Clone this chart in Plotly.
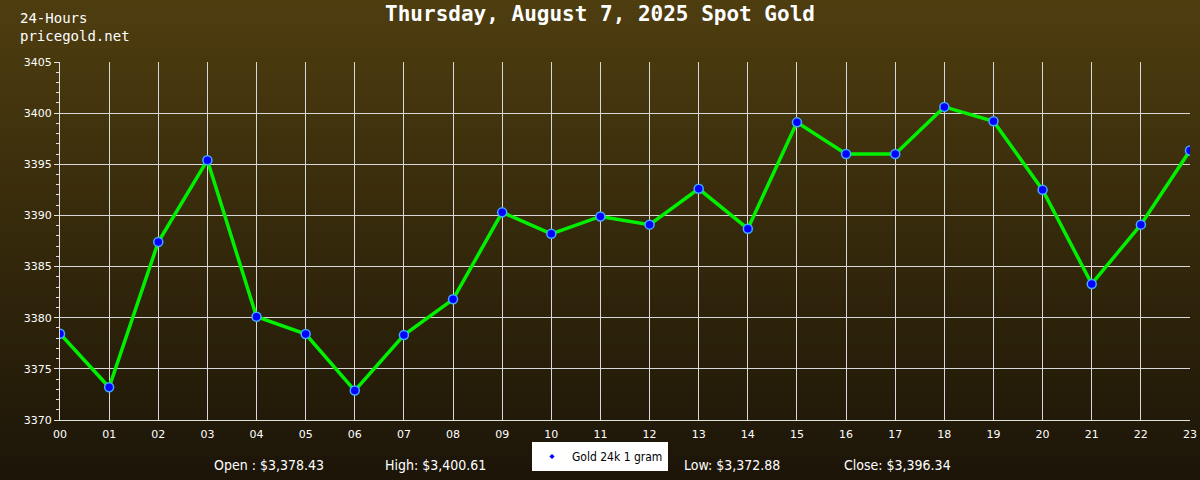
import plotly.graph_objects as go

hours = ["00","01","02","03","04","05","06","07","08","09","10","11",
         "12","13","14","15","16","17","18","19","20","21","22","23"]
prices = [3378.43, 3373.2, 3387.4, 3395.4, 3380.1, 3378.4, 3372.88, 3378.3,
          3381.8, 3390.3, 3388.2, 3389.9, 3389.1, 3392.6, 3388.7, 3399.1,
          3396.0, 3396.0, 3400.61, 3399.2, 3392.5, 3383.3, 3389.1, 3396.34]
y_ticks = [3370, 3375, 3380, 3385, 3390, 3395, 3400, 3405]
title_text = "Thursday, August 7, 2025 Spot Gold"
series_name = "Gold 24k 1 gram"

x_idx = list(range(len(hours)))

W, H = 1200, 480
L, R, T, B = 60, 10, 62, 60
PW, PH = W - L - R, H - T - B


def px_x(p):
    return (p - L) / PW


def px_y(p):
    return (H - B - p) / PH


fig = go.Figure()

# gradient background bands
top = (78, 61, 15)
bot = (28, 21, 8)
n = 60
shapes = []
for i in range(n):
    t = i / (n - 1)
    c = tuple(int(round(top[k] + (bot[k] - top[k]) * t)) for k in range(3))
    y_top = i * H / n
    y_bot = (i + 1) * H / n + 1
    shapes.append(dict(type="rect", xref="paper", yref="paper", layer="below",
                       x0=px_x(-5), x1=px_x(W + 5),
                       y0=px_y(y_bot), y1=px_y(y_top),
                       fillcolor="rgb(%d,%d,%d)" % c, line=dict(width=0)))

fig.add_trace(go.Scatter(
    x=x_idx, y=prices, mode="lines+markers", showlegend=False,
    line=dict(color="#00f000", width=3.5),
    marker=dict(color="#0000ff", size=9, line=dict(color="#44aaff", width=1.5)),
))
fig.add_trace(go.Scatter(
    x=[None], y=[None], mode="markers", name=series_name,
    marker=dict(color="#0000ff", size=4, symbol="diamond"),
))

op, hi, lo, cl = prices[0], max(prices), min(prices), prices[-1]
stat_font = dict(family="DejaVu Sans Condensed", size=14, color="white")

fig.update_layout(
    width=W, height=H,
    margin=dict(l=L, r=R, t=T, b=B),
    paper_bgcolor="#2e2410", plot_bgcolor="rgba(0,0,0,0)",
    shapes=shapes,
    title=dict(text="<b>" + title_text + "</b>", x=0.5, xanchor="center",
               y=1 - 14 / H, yanchor="middle",
               font=dict(family="DejaVu Sans Mono", size=21, color="white")),
    showlegend=True,
    legend=dict(orientation="h", x=0.5, xanchor="center", xref="container",
                y=(H - 471) / H, yref="container", yanchor="bottom",
                bgcolor="white", font=dict(family="DejaVu Sans Condensed", size=12, color="black"),
                itemwidth=30),
    xaxis=dict(range=[0, 23], tickmode="array", tickvals=x_idx, ticktext=hours,
               automargin=False,
               showgrid=True, gridcolor="#d8d8d8", gridwidth=1,
               showline=True, linecolor="#e0e0e0", linewidth=1, mirror=False,
               zeroline=False, ticks="outside", ticklen=4, tickcolor="rgba(0,0,0,0)",
               tickfont=dict(family="DejaVu Sans", size=11, color="white")),
    yaxis=dict(range=[3370, 3405], tickmode="array", tickvals=y_ticks,
               automargin=False,
               showgrid=True, gridcolor="#d8d8d8", gridwidth=1,
               showline=True, linecolor="#e0e0e0", linewidth=1,
               zeroline=False, ticks="outside", ticklen=5, tickcolor="#e0e0e0",
               minor=dict(dtick=1, ticks="outside", ticklen=3, tickcolor="#e0e0e0", showgrid=False),
               tickfont=dict(family="DejaVu Sans", size=11, color="white")),
)

mono = dict(family="DejaVu Sans Mono", size=14, color="white")
fig.add_annotation(text="24-Hours<br>pricegold.net", x=px_x(18), y=px_y(27),
                   xref="paper", yref="paper", align="left",
                   showarrow=False, xanchor="left", yanchor="middle", font=mono)

stats = [
    ("Open : $%s" % f"{op:,.2f}", 212),
    ("High: $%s" % f"{hi:,.2f}", 383),
    ("Low: $%s" % f"{lo:,.2f}", 682),
    ("Close: $%s" % f"{cl:,.2f}", 842),
]
for txt, px in stats:
    fig.add_annotation(text=txt, x=px_x(px), y=px_y(465), xref="paper", yref="paper",
                       showarrow=False, xanchor="left", yanchor="middle", font=stat_font)

fig.write_html("out.html", config={"displayModeBar": False},
               post_script="document.body.style.margin='0';")
